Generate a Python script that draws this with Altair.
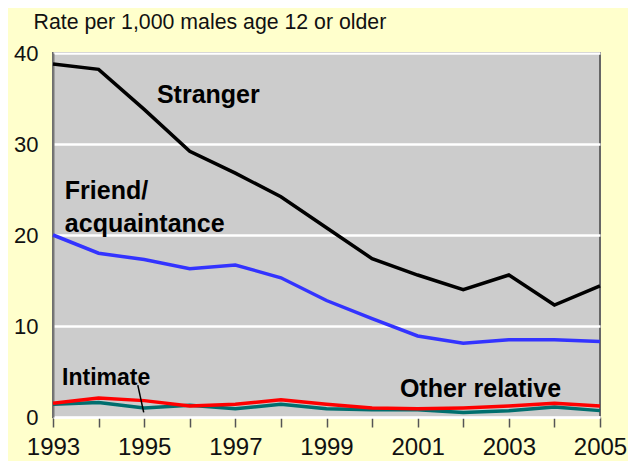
import altair as alt
import pandas as pd

years = list(range(1993, 2006))
stranger = [38.8, 38.2, 33.8, 29.2, 26.8, 24.2, 20.8, 17.4, 15.6, 14.0, 15.6, 12.3, 14.4]
friend = [20.0, 18.0, 17.3, 16.3, 16.7, 15.3, 12.8, 10.8, 8.9, 8.1, 8.5, 8.5, 8.3]
other_rel = [1.5, 2.1, 1.8, 1.2, 1.4, 1.9, 1.4, 1.0, 0.9, 1.0, 1.2, 1.5, 1.2]
intimate = [1.4, 1.6, 1.0, 1.3, 0.9, 1.4, 0.9, 0.8, 0.8, 0.5, 0.7, 1.1, 0.7]

series_names = ["Intimate", "Other relative", "Friend/acquaintance", "Stranger"]
series_vals = [intimate, other_rel, friend, stranger]
series_colors = ["#006E6E", "#FF0000", "#3333FF", "#000000"]

label_text = ["Stranger", "Friend/", "acquaintance", "Intimate", "Other relative"]
label_x = [1995.28, 1993.26, 1993.26, 1993.2, 2000.61]
label_y = [34.5, 24.0, 20.35, 3.55, 2.2]
label_size = [25, 25, 25, 23, 25]

rows = []
for name, vals in zip(series_names, series_vals):
    for yr, v in zip(years, vals):
        rows.append({"series": name, "year": yr, "value": v})
df = pd.DataFrame(rows)

labels = pd.DataFrame({"text": label_text, "x": label_x, "y": label_y, "size": label_size})
pointer = pd.DataFrame({"x": [1994.86], "y": [3.5], "x2": [1994.99], "y2": [0.5]})

xscale = alt.Scale(domain=[1993, 2005], nice=False, zero=False)
yscale = alt.Scale(domain=[0, 40], nice=False)

lines = alt.Chart(df).mark_line(strokeWidth=3.5, strokeJoin="miter").encode(
    x=alt.X("year:Q", scale=xscale,
            axis=alt.Axis(values=years, format="d", title=None,
                          labelExpr="datum.value % 2 == 1 ? datum.label : ''",
                          grid=False, domainColor="white", domainWidth=2.5,
                          tickColor="#555555", tickSize=10, tickWidth=1.5,
                          labelFontSize=24, labelPadding=8, labelColor="#111111",
                          labelFont="Liberation Sans", labelFlush=False)),
    y=alt.Y("value:Q", scale=yscale,
            axis=alt.Axis(values=[0, 10, 20, 30, 40], title="Rate per 1,000 males age 12 or older",
                          titleAngle=0, titleAlign="left", titleBaseline="alphabetic",
                          titleX=-20, titleY=-25, titleFontSize=21.3, titleFontWeight="normal",
                          titleFont="Liberation Sans", titleColor="#111111",
                          grid=True, gridColor="white", gridWidth=2.5, gridOpacity=1,
                          ticks=False, domainColor="#777777", domainWidth=2,
                          labelFontSize=22, labelPadding=15, labelColor="#111111",
                          labelFont="Liberation Sans")),
    color=alt.Color("series:N", scale=alt.Scale(domain=series_names, range=series_colors), legend=None),
    order=alt.Order("series_order:Q"),
).transform_calculate(
    series_order="indexof(['Intimate','Other relative','Friend/acquaintance','Stranger'], datum.series)"
)

text = alt.Chart(labels).mark_text(align="left", baseline="alphabetic", fontWeight="bold",
                                   font="Liberation Sans", color="#000000").encode(
    x=alt.X("x:Q", scale=xscale),
    y=alt.Y("y:Q", scale=yscale),
    text="text:N",
    size=alt.Size("size:Q", scale=None, legend=None),
)

ptr = alt.Chart(pointer).mark_rule(color="#000000", strokeWidth=1.5).encode(
    x=alt.X("x:Q", scale=xscale), y=alt.Y("y:Q", scale=yscale),
    x2="x2:Q", y2="y2:Q",
)

chart = alt.layer(lines, ptr, text).properties(
    width=547, height=364,
    background="#FFFFCC",
    padding={"left": 45, "top": 45, "right": 28, "bottom": 44},
    autosize=alt.AutoSizeParams(type="none"),
).configure_view(fill="#CCCCCC", stroke="#666666", strokeWidth=2)

chart.save("out.html", embed_options={"renderer": "svg", "actions": False})
